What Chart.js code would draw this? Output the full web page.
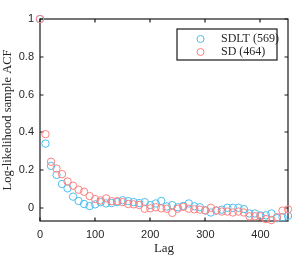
<!DOCTYPE html>
<html lang="en">
<head>
  <meta charset="UTF-8">
  <title>Log-likelihood sample ACF</title>
  <script src="https://cdn.jsdelivr.net/npm/chart.js"></script>
  <style>
    html, body { margin: 0; padding: 0; background: #ffffff; }
    #wrap { width: 299px; height: 257px; }
  </style>
</head>
<body>
  <div id="wrap"><canvas id="acfChart" width="299" height="257"></canvas></div>

  <script>
    // Lags 0..450 step 10
    const lags = [0, 10, 20, 30, 40, 50, 60, 70, 80, 90,
      100, 110, 120, 130, 140, 150, 160, 170, 180, 190,
      200, 210, 220, 230, 240, 250, 260, 270, 280, 290,
      300, 310, 320, 330, 340, 350, 360, 370, 380, 390,
      400, 410, 420, 430, 440, 450];

    const sdltAcf = [1, 0.34, 0.222, 0.174, 0.126, 0.103, 0.059, 0.036, 0.02, 0.009,
      0.018, 0.03, 0.023, 0.025, 0.03, 0.04, 0.035, 0.03, 0.025, 0.03,
      0.014, 0.023, 0.036, 0.007, 0.014, 0.003, 0.01, 0.023, 0.008, 0.003,
      -0.014, -0.025, -0.015, -0.01, 0.0, 0.0, 0.0, -0.007, -0.03, -0.03,
      -0.04, -0.04, -0.03, -0.055, -0.05, -0.043];

    const sdAcf = [1, 0.39, 0.244, 0.208, 0.178, 0.139, 0.117, 0.096, 0.085, 0.062,
      0.046, 0.039, 0.05, 0.035, 0.035, 0.03, 0.02, 0.018, 0.015, -0.005,
      -0.003, 0.003, -0.003, -0.005, -0.027, -0.005, 0.005, -0.005, -0.008, -0.01,
      -0.014, 0.0, -0.014, -0.02, -0.02, -0.025, -0.02, -0.025, -0.045, -0.045,
      -0.045, -0.06, -0.065, -0.05, -0.015, -0.008];

    const seriesLabels = ['SDLT (569)', 'SD (464)'];
    const xTicks = [0, 100, 200, 300, 400];
    const yTicks = [0, 0.2, 0.4, 0.6, 0.8, 1];

    const blue = 'rgb(77, 190, 238)';
    const red = 'rgb(255, 128, 128)';
    const axisColor = '#262626';
    const boxColor = '#1a1a1a';

    function toPoints(vals) {
      return lags.map((l, i) => ({ x: l, y: vals[i] }));
    }

    // box and inward ticks under the markers, legend on top
    const matlabBox = {
      id: 'matlabBox',
      beforeDatasetsDraw(chart) {
        const ctx = chart.ctx;
        const a = chart.chartArea;
        const xs = chart.scales.x, ys = chart.scales.y;
        const L = Math.round(a.left), T = Math.round(a.top);
        const R = Math.round(a.right), B = Math.round(a.bottom);
        ctx.save();
        ctx.strokeStyle = boxColor;
        ctx.lineWidth = 1.2;
        ctx.strokeRect(L, T, R - L, B - T);
        ctx.beginPath();
        xTicks.forEach(v => {
          const px = Math.round(xs.getPixelForValue(v));
          ctx.moveTo(px, B); ctx.lineTo(px, B - 3.5);
          ctx.moveTo(px, T); ctx.lineTo(px, T + 3.5);
        });
        yTicks.forEach(v => {
          const py = Math.round(ys.getPixelForValue(v));
          ctx.moveTo(L, py); ctx.lineTo(L + 3.5, py);
          ctx.moveTo(R, py); ctx.lineTo(R - 3.5, py);
        });
        ctx.stroke();
        ctx.restore();
      },
      afterDraw(chart) {
        const ctx = chart.ctx;
        ctx.save();
        const lx = 177, ly = 29, lw = 100, lh = 31;
        ctx.fillStyle = '#ffffff';
        ctx.fillRect(lx, ly, lw, lh);
        ctx.strokeStyle = boxColor;
        ctx.lineWidth = 1.2;
        ctx.strokeRect(lx, ly, lw, lh);
        ctx.font = '12px "Liberation Serif", "DejaVu Serif", serif';
        ctx.textBaseline = 'middle';
        ctx.textAlign = 'left';
        ctx.lineWidth = 1;
        const colors = [blue, red];
        seriesLabels.forEach((lab, i) => {
          const cy = ly + 10 + i * 13;
          ctx.beginPath();
          ctx.strokeStyle = colors[i];
          ctx.arc(200.5, cy, 3.5, 0, Math.PI * 2);
          ctx.stroke();
          ctx.fillStyle = axisColor;
          ctx.fillText(lab, 221, cy);
        });
        ctx.restore();
      }
    };

    const ctx = document.getElementById('acfChart').getContext('2d');
    const acfChart = new Chart(ctx, {
      type: 'scatter',
      data: {
        datasets: [{
          label: seriesLabels[0],
          data: toPoints(sdltAcf),
          borderColor: blue,
          backgroundColor: 'rgba(0,0,0,0)',
          pointRadius: 3.7,
          pointBorderWidth: 1,
          clip: false,
          order: 1
        }, {
          label: seriesLabels[1],
          data: toPoints(sdAcf),
          borderColor: red,
          backgroundColor: 'rgba(0,0,0,0)',
          pointRadius: 3.7,
          pointBorderWidth: 1,
          clip: false,
          order: 0
        }]
      },
      options: {
        responsive: false,
        animation: false,
        layout: { padding: { top: 19, right: 11, left: 0, bottom: 0 } },
        plugins: {
          legend: { display: false },
          tooltip: { enabled: false }
        },
        scales: {
          x: {
            type: 'linear',
            min: 0, max: 450,
            afterBuildTicks: s => { s.ticks = xTicks.map(v => ({ value: v })); },
            afterFit: s => { s.height = 36; },
            grid: { display: false, drawTicks: false },
            border: { display: false },
            ticks: {
              color: axisColor,
              padding: 7,
              font: { family: '"Liberation Sans", Arial, sans-serif', size: 11 }
            },
            title: {
              display: true, text: 'Lag', color: axisColor,
              padding: { top: 0, bottom: 1 },
              font: { family: '"Liberation Serif", serif', size: 13 }
            }
          },
          y: {
            min: -0.07, max: 1,
            afterBuildTicks: s => { s.ticks = yTicks.map(v => ({ value: v })); },
            afterFit: s => { s.width = 40; },
            grid: { display: false, drawTicks: false },
            border: { display: false },
            ticks: {
              color: axisColor,
              padding: 6,
              callback: v => String(Math.round(v * 10) / 10),
              font: { family: '"Liberation Sans", Arial, sans-serif', size: 11 }
            },
            title: {
              display: true, text: 'Log-likelihood sample ACF', color: axisColor,
              padding: { top: 0, bottom: 0 },
              font: { family: '"Liberation Serif", serif', size: 12.5 }
            }
          }
        }
      },
      plugins: [matlabBox]
    });
  </script>
</body>
</html>
